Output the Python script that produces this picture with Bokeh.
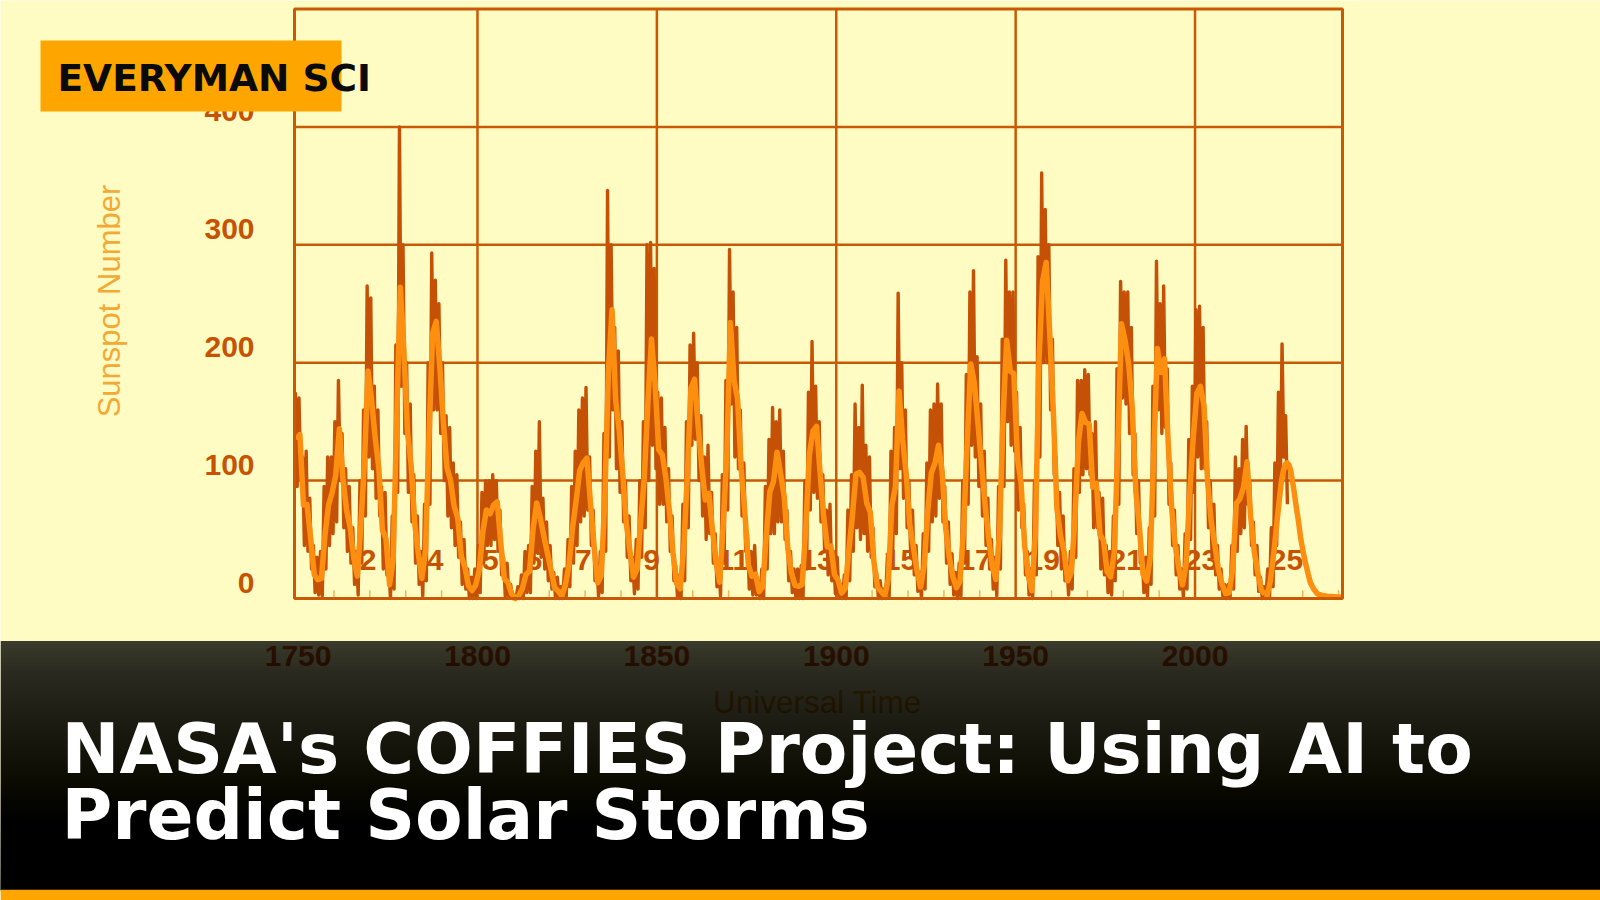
import numpy as np
from bokeh.plotting import figure
from bokeh.models import Range1d
from bokeh.core.properties import value
from bokeh.embed import file_html
from bokeh.resources import INLINE

# ---------------- data (read / estimated from the picture) ----------------
# smoothed sunspot number, one value per year, 1749 .. 2019
sn_mean = [
    134.7, 139.0, 79.5, 79.7, 51.2, 20.3, 16.0, 17.0, 54.0, 79.3,
    90.0, 104.8, 144.0, 102.0, 75.2, 60.7, 34.8, 19.0, 63.0, 116.3,
    193.0, 168.0, 136.0, 110.8, 58.0, 51.0, 11.7, 33.0, 154.2, 264.0,
    209.8, 141.3, 113.5, 64.2, 38.0, 17.0, 40.2, 138.2, 225.0, 235.0,
    196.8, 149.8, 111.0, 100.0, 78.2, 68.3, 35.5, 26.7, 10.7, 6.8,
    11.3, 24.2, 56.7, 75.0, 71.8, 79.2, 82.0, 46.8, 16.8, 13.5,
    4.2, 0.0, 2.3, 8.3, 20.3, 23.2, 59.0, 81.0, 68.3, 52.9,
    38.5, 24.2, 9.2, 6.3, 2.2, 11.4, 28.2, 59.9, 83.0, 108.5,
    115.2, 119.0, 80.8, 44.3, 13.4, 19.5, 85.8, 192.7, 245.0, 168.7,
    143.0, 105.5, 63.3, 40.3, 18.1, 25.1, 65.8, 102.7, 166.3, 220.0,
    182.5, 126.3, 122.0, 102.7, 74.1, 39.0, 12.7, 8.2, 43.4, 104.4,
    178.3, 186.0, 146.6, 112.1, 83.5, 89.2, 57.8, 30.7, 13.9, 62.8,
    123.6, 234.0, 185.3, 169.2, 110.1, 74.5, 28.3, 18.9, 20.7, 5.7,
    10.0, 53.7, 90.5, 99.0, 124.0, 105.8, 86.3, 42.4, 21.8, 11.2,
    10.4, 11.8, 59.5, 121.7, 142.0, 146.0, 106.6, 69.4, 43.8, 44.4,
    20.2, 15.7, 4.6, 8.5, 40.8, 70.1, 105.5, 107.0, 102.8, 80.9,
    73.2, 30.9, 9.5, 6.0, 2.4, 16.1, 79.0, 95.0, 176.0, 134.6,
    105.7, 62.7, 43.5, 23.7, 9.7, 27.9, 74.0, 106.5, 114.7, 130.0,
    108.2, 59.4, 35.1, 18.6, 9.2, 14.6, 60.2, 132.8, 199.0, 182.6,
    148.0, 113.0, 79.2, 50.8, 27.1, 16.1, 55.3, 154.3, 219.0, 193.0,
    190.7, 118.9, 98.3, 45.0, 20.1, 6.6, 54.2, 200.7, 269.3, 285.0,
    225.1, 159.0, 76.4, 53.4, 39.9, 15.0, 22.0, 66.8, 132.9, 157.0,
    149.4, 148.0, 94.4, 97.6, 54.1, 49.2, 22.5, 18.4, 39.3, 131.0,
    233.0, 218.9, 198.9, 162.4, 91.0, 60.5, 20.6, 14.8, 33.9, 123.0,
    212.0, 191.8, 203.3, 133.0, 76.1, 44.9, 25.1, 11.6, 28.9, 88.3,
    136.3, 173.9, 180.0, 163.6, 99.3, 65.3, 45.8, 24.7, 12.6, 4.2,
    4.8, 24.9, 80.8, 84.5, 94.0, 116.0, 69.8, 39.8, 21.7, 7.0, 3.6,
]
mean_first_year = 1749

# highest / lowest monthly value of each year, 1749 .. 2025
sn_month_hi = [
    175, 170, 120, 125, 85, 45, 35, 40, 95, 120,
    120, 150, 185, 140, 110, 95, 60, 40, 100, 160,
    265, 255, 180, 160, 95, 90, 30, 70, 215, 400,
    300, 200, 165, 105, 70, 40, 80, 200, 293, 270,
    250, 200, 155, 145, 115, 105, 65, 50, 25, 18,
    25, 45, 90, 100, 100, 105, 100, 75, 35, 30,
    12, 2, 10, 20, 40, 45, 95, 125, 150, 85,
    65, 45, 22, 18, 10, 25, 50, 95, 125, 160,
    170, 179, 120, 75, 30, 40, 140, 346, 300, 230,
    210, 150, 100, 70, 35, 50, 100, 150, 300, 302,
    280, 175, 170, 145, 110, 70, 28, 20, 80, 150,
    215, 225, 200, 155, 120, 130, 90, 55, 30, 105,
    185, 296, 260, 230, 160, 115, 55, 40, 45, 15,
    25, 95, 135, 162, 150, 160, 125, 75, 40, 25,
    25, 28, 100, 175, 218, 180, 150, 105, 75, 80,
    40, 35, 12, 20, 75, 105, 165, 145, 181, 130,
    120, 60, 22, 15, 8, 35, 125, 145, 259, 200,
    160, 100, 75, 45, 22, 55, 115, 160, 165, 182,
    165, 95, 65, 38, 22, 30, 100, 190, 260, 278,
    205, 165, 125, 85, 50, 35, 95, 220, 287, 260,
    260, 175, 145, 80, 40, 18, 100, 290, 361, 330,
    300, 220, 120, 90, 70, 30, 40, 110, 185, 185,
    194, 190, 140, 150, 90, 85, 45, 40, 70, 195,
    269, 260, 260, 230, 140, 100, 40, 35, 60, 180,
    286, 250, 265, 195, 115, 75, 45, 25, 55, 135,
    180, 245, 248, 230, 150, 100, 80, 45, 25, 12,
    12, 45, 120, 110, 135, 146, 100, 65, 45, 18,
    10, 25, 60, 115, 175, 216, 155,
]
sn_month_lo = [
    95, 100, 45, 40, 25, 5, 3, 2, 25, 45,
    55, 65, 100, 60, 40, 30, 12, 3, 30, 70,
    120, 110, 85, 70, 25, 20, 0, 8, 90, 180,
    140, 90, 65, 30, 12, 2, 15, 80, 160, 160,
    140, 100, 70, 60, 45, 35, 12, 8, 0, 0,
    0, 5, 30, 45, 45, 50, 40, 20, 2, 1,
    0, 0, 0, 0, 5, 5, 30, 40, 35, 25,
    15, 8, 0, 0, 0, 2, 10, 30, 45, 65,
    70, 75, 45, 15, 2, 5, 40, 120, 160, 110,
    90, 65, 35, 15, 4, 8, 35, 60, 100, 130,
    110, 80, 80, 65, 40, 15, 1, 0, 15, 60,
    130, 135, 100, 70, 50, 55, 30, 10, 2, 30,
    75, 165, 120, 110, 70, 40, 8, 3, 3, 0,
    0, 25, 55, 55, 65, 65, 50, 15, 5, 0,
    0, 0, 25, 75, 90, 85, 65, 40, 20, 15,
    4, 2, 0, 0, 15, 40, 60, 50, 55, 40,
    35, 10, 0, 0, 0, 2, 40, 55, 110, 85,
    60, 35, 20, 6, 0, 8, 40, 65, 70, 85,
    65, 30, 12, 3, 0, 2, 30, 80, 130, 120,
    95, 70, 45, 25, 8, 2, 25, 95, 150, 130,
    125, 75, 60, 20, 3, 0, 20, 120, 200, 200,
    160, 105, 45, 25, 15, 3, 8, 35, 90, 105,
    110, 105, 60, 60, 25, 20, 5, 3, 15, 80,
    170, 165, 140, 105, 55, 30, 5, 2, 12, 70,
    160, 140, 145, 80, 45, 20, 8, 1, 8, 50,
    90, 120, 110, 110, 60, 35, 20, 8, 2, 0,
    0, 8, 40, 55, 60, 80, 45, 20, 6, 0,
    0, 0, 10, 45, 90, 120, 80,
]
month_first_year = 1749

# predicted cycle 25 curve
pred_years = [2019.9, 2021.0, 2022.0, 2023.0, 2024.0, 2024.6, 2025.2, 2025.7,
              2026.2, 2026.7, 2027.4, 2028.1, 2028.8, 2029.4, 2030.1, 2030.8,
              2031.5, 2032.2, 2033.1, 2034.1, 2035.5, 2036.8, 2041.0]
pred_vals = [0, 15, 40, 70, 98, 108, 114, 115,
             113, 108, 95, 80, 66, 52, 40, 30,
             21, 13, 8, 4, 2.5, 2, 1]

# cycle numbers and where they are written
cycle_labels = ["2", "4", "5", "6", "7", "9", "11", "13", "15", "17", "19", "21", "23", "25"]
cycle_label_years = [1769.5, 1788.2, 1803.6, 1815.8, 1829.5, 1848.5, 1871.3,
                     1894.6, 1917.9, 1938.7, 1957.7, 1980.8, 2001.8, 2025.5]
cycle_label_value = 33

x_ticks = [1750, 1800, 1850, 1900, 1950, 2000]
x_grid = [1800, 1850, 1900, 1950, 2000]
x_minor = [1760, 1770, 1780, 1790, 1810, 1820, 1830, 1840, 1860, 1870, 1880, 1890,
           1910, 1920, 1930, 1940, 1960, 1970, 1980, 1990, 2010, 2020, 2030, 2040]
y_ticks = [0, 100, 200, 300, 400]
y_grid = [100, 200, 300, 400]
x_min, x_max = 1749.0, 2041.1
y_min, y_max = 0, 500

title_lines = ["NASA's COFFIES Project: Using AI to", "Predict Solar Storms"]
badge_text = "EVERYMAN SCI"
y_label = "Sunspot Number"
x_label = "Universal Time"

# ---------------- layout (pixel geometry) ----------------
W, H = 1600, 900
PX_L, PX_R = 294.0, 1342.0       # frame left / right in pixels
PY_B, PY_T = 598.0, 8.5          # frame bottom / top in pixels
sx = (PX_R - PX_L) / (x_max - x_min)
sy = (PY_B - PY_T) / (y_max - y_min)


def x_at(px):
    return x_min + (px - PX_L) / sx


def y_at(py):
    return y_min + (PY_B - py) / sy


BG = "#fffcc3"
FRAME = "#c85a05"
DARK = "#c45105"
LIGHT = "#fc8f10"
TICK_TXT = "#c65302"
PALE = "#f3a936"
ORANGE = "#ffa500"

p = figure(width=W, height=H, output_backend="svg", toolbar_location=None,
           x_range=Range1d(x_at(0), x_at(W)), y_range=Range1d(y_at(H), y_at(0)),
           x_axis_type=None, y_axis_type=None, min_border=0)
p.extra_x_ranges = {"px": Range1d(0, W)}
p.extra_y_ranges = {"px": Range1d(H, 0)}
p.background_fill_color = BG
p.border_fill_color = BG
p.outline_line_color = None

PXR = dict(x_range_name="px", y_range_name="px")


def fsz(v):
    return value(f"{v:.1f}px")


# grid and frame
p.segment(x0=x_grid, y0=[y_min] * len(x_grid), x1=x_grid, y1=[y_max] * len(x_grid),
          line_color=FRAME, line_width=2.5)
p.segment(x0=[x_min] * len(y_grid), y0=y_grid, x1=[x_max] * len(y_grid), y1=y_grid,
          line_color=FRAME, line_width=2.5)
p.segment(x0=x_minor, y0=[y_min] * len(x_minor), x1=x_minor, y1=[y_min + 7] * len(x_minor),
          line_color="#efb45a", line_width=1.5)

# cycle numbers (behind the curves)
p.text(x=cycle_label_years, y=[cycle_label_value] * len(cycle_labels), text=cycle_labels,
       text_font=value("Liberation Sans"), text_font_style="bold", text_font_size=fsz(30),
       text_color=TICK_TXT, text_align="center", text_baseline="middle")

# monthly values: zig-zag between each year's highest and lowest month
mx, my = [], []
for i, (hi, lo) in enumerate(zip(sn_month_hi, sn_month_lo)):
    yr = month_first_year + i
    mx += [yr + 0.25, yr + 0.75]
    my += [hi, lo]
p.line(mx, my, line_color=DARK, line_width=3.4, line_join="round")

# smoothed curve and prediction
years_mean = [mean_first_year + i + 0.5 for i in range(len(sn_mean))]
p.line(years_mean, sn_mean, line_color=LIGHT, line_width=5.5, line_join="round")
p.line(pred_years, pred_vals, line_color=LIGHT, line_width=5.5, line_join="round")

# frame
p.quad(left=[x_min], right=[x_max], bottom=[y_min], top=[y_max], fill_alpha=0,
       line_color=FRAME, line_width=3)

# tick labels
p.text(x=[254] * len(y_ticks), y=y_ticks, text=[str(v) for v in y_ticks], x_range_name="px",
       text_font=value("Liberation Sans"), text_font_style="bold", text_font_size=fsz(30),
       text_color=TICK_TXT, text_align="right", text_baseline="middle", y_offset=-16)
p.text(x=x_ticks, y=[655] * len(x_ticks), text=[str(v) for v in x_ticks], y_range_name="px",
       text_font=value("Liberation Sans"), text_font_style="bold", text_font_size=fsz(30),
       text_color=TICK_TXT, text_align="center", text_baseline="middle")

# axis titles
p.text(x=[109], y=[300.5], text=[y_label], angle=np.pi / 2, **PXR,
       text_font=value("Liberation Sans"), text_font_size=fsz(31),
       text_color=PALE, text_align="center", text_baseline="middle")
p.text(x=[817], y=[701], text=[x_label], **PXR,
       text_font=value("Liberation Sans"), text_font_size=fsz(31.5),
       text_color=PALE, text_align="center", text_baseline="middle")

# dark banner with gradient (nested strips, no seams)
N = 70
top_px, bot_px = 640.5, 890.0
edges = np.linspace(top_px, bot_px, N + 1)[:-1]
t = np.linspace(0, 1, N)
A = 0.77 + 0.218 * t ** 0.7
alphas = [float(A[0])] + [float(1 - (1 - A[k]) / (1 - A[k - 1])) for k in range(1, N)]
p.quad(left=[0] * N, right=[W] * N, top=list(edges), bottom=[bot_px] * N,
       fill_color="black", fill_alpha=alphas, line_color=None, **PXR)

# title
p.text(x=[61, 61], y=[748.5, 814], text=title_lines, **PXR,
       text_font=value("DejaVu Sans"), text_font_style="bold", text_font_size=fsz(69.3),
       text_color="white", text_align="left", text_baseline="middle")

# orange bottom stripe
p.quad(left=[0], right=[W], top=[889.3], bottom=[H], fill_color=ORANGE,
       line_color=None, **PXR)

# badge
p.quad(left=[40], right=[341], top=[40], bottom=[111], fill_color=ORANGE,
       line_color=None, **PXR)
p.text(x=[57], y=[77], text=[badge_text], **PXR,
       text_font=value("DejaVu Sans"), text_font_style="bold", text_font_size=fsz(37.5),
       text_color="#0a0a0a", text_align="left", text_baseline="middle")

open("out.html", "w").write(file_html(p, INLINE))
